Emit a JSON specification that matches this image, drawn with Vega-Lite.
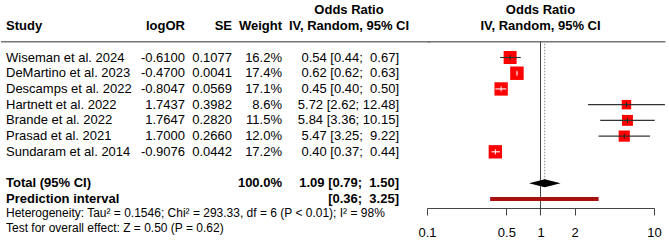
{
  "$schema": "https://vega.github.io/schema/vega-lite/v6.json",
  "padding": 0,
  "background": "white",
  "spacing": 0,
  "bounds": "flush",
  "config": {
    "view": {"stroke": null},
    "font": "Liberation Sans",
    "text": {"font": "Liberation Sans", "fontSize": 13, "color": "black"}
  },
  "datasets": {
    "studies": [
      {"Study": "Wiseman et al. 2024", "row": 1, "logOR": "-0.6100", "SE": 0.1077, "Weight": 0.162, "OR": 0.54, "lower": 0.44, "upper": 0.67, "CI": "0.54 [0.44;\u00a0 0.67]"},
      {"Study": "DeMartino et al. 2023", "row": 2, "logOR": "-0.4700", "SE": 0.0041, "Weight": 0.174, "OR": 0.62, "lower": 0.62, "upper": 0.63, "CI": "0.62 [0.62;\u00a0 0.63]"},
      {"Study": "Descamps et al. 2022", "row": 3, "logOR": "-0.8047", "SE": 0.0569, "Weight": 0.171, "OR": 0.45, "lower": 0.40, "upper": 0.50, "CI": "0.45 [0.40;\u00a0 0.50]"},
      {"Study": "Hartnett et al. 2022", "row": 4, "logOR": "1.7437", "SE": 0.3982, "Weight": 0.086, "OR": 5.72, "lower": 2.62, "upper": 12.48, "CI": "5.72 [2.62; 12.48]"},
      {"Study": "Brande et al. 2022", "row": 5, "logOR": "1.7647", "SE": 0.2820, "Weight": 0.115, "OR": 5.84, "lower": 3.36, "upper": 10.15, "CI": "5.84 [3.36; 10.15]"},
      {"Study": "Prasad et al. 2021", "row": 6, "logOR": "1.7000", "SE": 0.2660, "Weight": 0.120, "OR": 5.47, "lower": 3.25, "upper": 9.22, "CI": "5.47 [3.25;\u00a0 9.22]"},
      {"Study": "Sundaram et al. 2014", "row": 7, "logOR": "-0.9076", "SE": 0.0442, "Weight": 0.172, "OR": 0.40, "lower": 0.37, "upper": 0.44, "CI": "0.40 [0.37;\u00a0 0.44]"}
    ],
    "summary": [
      {"type": "total", "Study": "Total (95% CI)", "row": 9, "Weight": 1.0, "OR": 1.09, "lower": 0.79, "upper": 1.50, "CI": "1.09 [0.79;\u00a0 1.50]"},
      {"type": "prediction", "Study": "Prediction interval", "row": 10, "lower": 0.36, "upper": 3.25, "CI": "[0.36;\u00a0 3.25]"}
    ],
    "notes": [
      {"row": 11, "text": "Heterogeneity: Tau² = 0.1546; Chi² = 293.33, df = 6 (P < 0.01); I² = 98%"},
      {"row": 12, "text": "Test for overall effect: Z = 0.50 (P = 0.62)"}
    ]
  },
  "hconcat": [
    {
      "width": 426,
      "height": 208,
      "layer": [
        {
          "data": {"values": [{}]},
          "mark": {"type": "rule", "color": "#777777", "strokeWidth": 1.5},
          "encoding": {
            "x": {"datum": 0, "type": "quantitative", "scale": {"domain": [0, 426], "nice": false, "zero": false}, "axis": null},
            "x2": {"datum": 430},
            "y": {"datum": 0, "type": "quantitative", "scale": {"domain": [-2.658, 10.574], "reverse": true, "nice": false, "zero": false}, "axis": null}
          }
        },
        {"data": {"values": [{}]}, "mark": {"type": "text", "text": "Study", "align": "left", "fontWeight": "bold"}, "encoding": {"x": {"datum": 5}, "y": {"datum": -1}}},
        {"data": {"values": [{}]}, "mark": {"type": "text", "text": "logOR", "align": "right", "fontWeight": "bold"}, "encoding": {"x": {"datum": 184}, "y": {"datum": -1}}},
        {"data": {"values": [{}]}, "mark": {"type": "text", "text": "SE", "align": "right", "fontWeight": "bold"}, "encoding": {"x": {"datum": 231}, "y": {"datum": -1}}},
        {"data": {"values": [{}]}, "mark": {"type": "text", "text": "Weight", "align": "right", "fontWeight": "bold"}, "encoding": {"x": {"datum": 281}, "y": {"datum": -1}}},
        {"data": {"values": [{}]}, "mark": {"type": "text", "text": "Odds Ratio", "align": "center", "fontWeight": "bold"}, "encoding": {"x": {"datum": 348}, "y": {"datum": -2}}},
        {"data": {"values": [{}]}, "mark": {"type": "text", "text": "IV, Random, 95% CI", "align": "center", "fontWeight": "bold"}, "encoding": {"x": {"datum": 348}, "y": {"datum": -1}}},
        {"data": {"name": "studies"}, "mark": {"type": "text", "align": "left"}, "encoding": {"x": {"datum": 5}, "y": {"field": "row", "type": "quantitative"}, "text": {"field": "Study"}}},
        {"data": {"name": "studies"}, "mark": {"type": "text", "align": "right"}, "encoding": {"x": {"datum": 184}, "y": {"field": "row", "type": "quantitative"}, "text": {"field": "logOR"}}},
        {"data": {"name": "studies"}, "mark": {"type": "text", "align": "right"}, "encoding": {"x": {"datum": 231}, "y": {"field": "row", "type": "quantitative"}, "text": {"field": "SE", "type": "quantitative", "format": ".4f"}}},
        {"data": {"name": "studies"}, "mark": {"type": "text", "align": "right"}, "encoding": {"x": {"datum": 281}, "y": {"field": "row", "type": "quantitative"}, "text": {"field": "Weight", "type": "quantitative", "format": ".1%"}}},
        {"data": {"name": "studies"}, "mark": {"type": "text", "align": "right"}, "encoding": {"x": {"datum": 398}, "y": {"field": "row", "type": "quantitative"}, "text": {"field": "CI"}}},
        {"data": {"name": "summary"}, "mark": {"type": "text", "align": "left", "fontWeight": "bold"}, "encoding": {"x": {"datum": 5}, "y": {"field": "row", "type": "quantitative"}, "text": {"field": "Study"}}},
        {"data": {"name": "summary"}, "transform": [{"filter": "isValid(datum.Weight)"}], "mark": {"type": "text", "align": "right", "fontWeight": "bold"}, "encoding": {"x": {"datum": 281}, "y": {"field": "row", "type": "quantitative"}, "text": {"field": "Weight", "type": "quantitative", "format": ".1%"}}},
        {"data": {"name": "summary"}, "mark": {"type": "text", "align": "right", "fontWeight": "bold"}, "encoding": {"x": {"datum": 398}, "y": {"field": "row", "type": "quantitative"}, "text": {"field": "CI"}}},
        {"data": {"name": "notes"}, "mark": {"type": "text", "align": "left", "fontSize": 12, "dy": -2}, "encoding": {"x": {"datum": 5}, "y": {"field": "row", "type": "quantitative"}, "text": {"field": "text"}}}
      ]
    },
    {
      "width": 227,
      "height": 208,
      "layer": [
        {
          "data": {"name": "studies"},
          "mark": {"type": "point", "shape": "square", "filled": true, "color": "red", "opacity": 1},
          "encoding": {
            "x": {"field": "OR", "type": "quantitative", "title": null,
                  "scale": {"type": "log", "domain": [0.1, 10], "nice": false},
                  "axis": {"values": [0.1, 0.5, 1, 2, 10], "format": "~g", "title": null, "grid": false,
                           "domainColor": "#444444", "tickColor": "#444444", "tickSize": 7, "domainWidth": 1, "tickWidth": 1,
                           "labelFontSize": 13, "labelColor": "black", "labelPadding": 11, "labelFont": "Liberation Sans", "labelFlush": false}},
            "y": {"field": "row", "type": "quantitative", "scale": {"domain": [-2.658, 10.574], "reverse": true, "nice": false, "zero": false}, "axis": null},
            "size": {"field": "Weight", "type": "quantitative", "scale": {"domain": [0, 1], "range": [0, 1040], "zero": true}, "legend": null}
          }
        },
        {"data": {"values": [{}]}, "mark": {"type": "text", "text": "Odds Ratio", "align": "center", "fontWeight": "bold"}, "encoding": {"x": {"datum": 1}, "y": {"datum": -2}}},
        {"data": {"values": [{}]}, "mark": {"type": "text", "text": "IV, Random, 95% CI", "align": "center", "fontWeight": "bold"}, "encoding": {"x": {"datum": 1}, "y": {"datum": -1}}},
        {"data": {"values": [{}]}, "mark": {"type": "rule", "color": "#777777", "strokeWidth": 1.5}, "encoding": {"x": {"datum": 0.1}, "x2": {"datum": 12.6}, "y": {"datum": 0}}},
        {"data": {"values": [{}]}, "mark": {"type": "rule", "color": "#444444", "strokeWidth": 1}, "encoding": {"x": {"datum": 1}, "y": {"datum": 0}, "y2": {"datum": 10.574}}},
        {"data": {"name": "summary"}, "transform": [{"filter": "datum.type == 'total'"}], "mark": {"type": "rule", "color": "#888888", "strokeWidth": 1, "strokeDash": [1.5, 1.5]}, "encoding": {"x": {"field": "OR", "type": "quantitative", "title": null}, "y": {"field": "row", "type": "quantitative"}, "y2": {"datum": 0}}},
        {"data": {"name": "studies"}, "mark": {"type": "rule", "strokeWidth": 1.1},
         "encoding": {"x": {"field": "lower", "type": "quantitative", "title": null}, "x2": {"field": "upper"}, "y": {"field": "row", "type": "quantitative"},
                      "color": {"condition": {"test": "(log(datum.upper) - log(datum.lower)) / LN10 * 113.3 < sqrt(datum.Weight * 1040)", "value": "white"}, "value": "#333333"}}},
        {"data": {"name": "studies"}, "mark": {"type": "point", "shape": "M0,-1L0,1", "filled": false, "strokeWidth": 1, "size": 25, "opacity": 1},
         "encoding": {"x": {"field": "OR", "type": "quantitative", "title": null}, "y": {"field": "row", "type": "quantitative"},
                      "color": {"condition": {"test": "(log(datum.upper) - log(datum.lower)) / LN10 * 113.3 < sqrt(datum.Weight * 1040)", "value": "white"}, "value": "#222222"}}},
        {"data": {"name": "summary"}, "transform": [{"filter": "datum.type == 'total'"}], "mark": {"type": "point", "shape": "M-1,0L0,-0.25L1,0L0,0.25Z", "filled": true, "color": "black", "size": 1000, "opacity": 1}, "encoding": {"x": {"field": "OR", "type": "quantitative", "title": null}, "y": {"field": "row", "type": "quantitative"}}},
        {"data": {"name": "summary"}, "transform": [{"filter": "datum.type == 'prediction'"}], "mark": {"type": "rule", "color": "#a81010", "strokeWidth": 4, "strokeCap": "butt"}, "encoding": {"x": {"field": "lower", "type": "quantitative", "title": null}, "x2": {"field": "upper"}, "y": {"field": "row", "type": "quantitative"}}}
      ]
    }
  ]
}
